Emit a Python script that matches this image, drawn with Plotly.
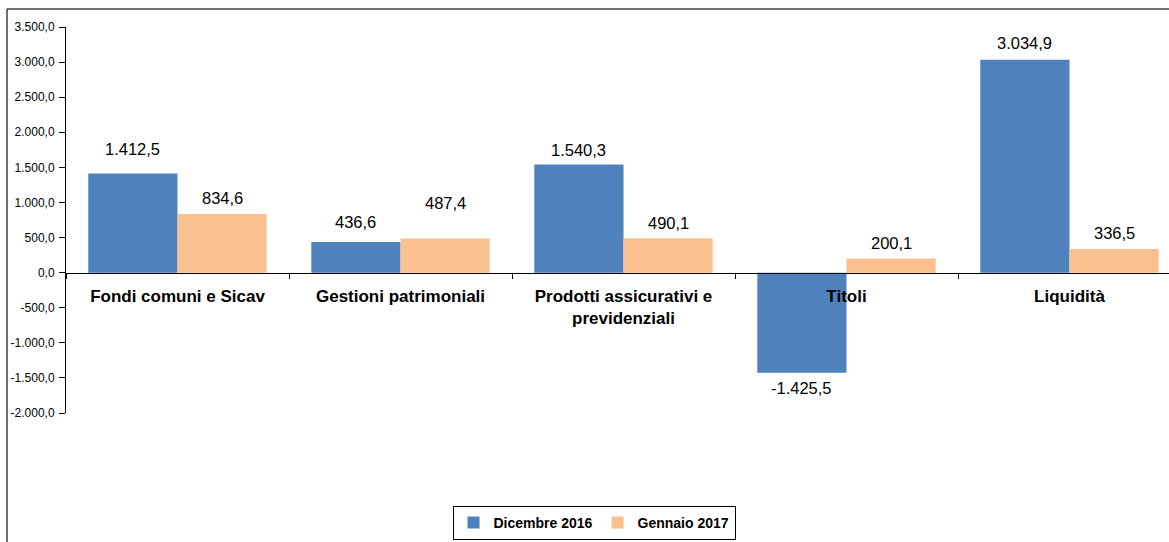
import plotly.graph_objects as go

# ---- data ----
categories = ["Fondi comuni e Sicav", "Gestioni patrimoniali",
              "Prodotti assicurativi e<br>previdenziali", "Titoli", "Liquidità"]
series_names = ["Dicembre 2016", "Gennaio 2017"]
dicembre_2016 = [1412.5, 436.6, 1540.3, -1425.5, 3034.9]
gennaio_2017 = [834.6, 487.4, 490.1, 200.1, 336.5]
y_tick_values = [-2000, -1500, -1000, -500, 0, 500, 1000, 1500, 2000, 2500, 3000, 3500]

# ---- style ----
W, H = 1169, 542
M_L, M_R, M_T, M_B = 66, 0, 27, 129
GROUP_PX = 223                      # width of one category slot in pixels
BARGAP = 0.2
COLORS = ["#4F81BD", "#FAC090"]
FONT = "Arial, Liberation Sans, sans-serif"
Y_MIN, Y_MAX = -2000, 3500
# distance (px) from bar end to the centre of its value label
LABEL_OFFSETS = [[25, 20, 15, 15, 17], [16, 35, 15, 16, 16]]


def it_fmt(v):
    s = f"{v:,.1f}"
    return s.replace(",", "#").replace(".", ",").replace("#", ".")


plot_w = W - M_L - M_R
x_range = [-0.5, -0.5 + plot_w / GROUP_PX]
zero_pos = (0 - Y_MIN) / (Y_MAX - Y_MIN)

fig = go.Figure()
for name, vals, col in zip(series_names, [dicembre_2016, gennaio_2017], COLORS):
    fig.add_trace(go.Bar(
        name=name, x=categories, y=vals,
        marker=dict(color=col, line=dict(width=0)),
        hoverinfo="skip",
    ))

# value labels
bar_w = (1 - BARGAP) / 2
annotations = []
for s, vals in enumerate([dicembre_2016, gennaio_2017]):
    for i, v in enumerate(vals):
        off = LABEL_OFFSETS[s][i]
        annotations.append(dict(
            x=i + (s - 0.5) * bar_w, y=v, xref="x", yref="y",
            text=it_fmt(v), showarrow=False, yanchor="middle", xanchor="center",
            yshift=off if v >= 0 else -off,
            font=dict(family=FONT, size=16.5, color="#000000"),
        ))

# outer chart frame (left and top edges)
fx0 = (7 - M_L) / plot_w
fy1 = 1 + (M_T - 9) / (H - M_T - M_B)
shapes = [
    dict(type="line", xref="paper", yref="paper", x0=fx0, x1=fx0, y0=-2, y1=fy1,
         line=dict(color="#404040", width=1.5)),
    dict(type="line", xref="paper", yref="paper", x0=fx0, x1=1.2, y0=fy1, y1=fy1,
         line=dict(color="#404040", width=1.5)),
]

fig.update_layout(
    width=W, height=H,
    margin=dict(l=M_L, r=M_R, t=M_T, b=M_B, pad=0),
    paper_bgcolor="white", plot_bgcolor="white",
    barmode="group", bargap=BARGAP, bargroupgap=0,
    font=dict(family=FONT, color="#000000"),
    annotations=annotations, shapes=shapes,
    showlegend=True,
    legend=dict(
        orientation="h", xref="container", yref="container",
        x=594 / W, xanchor="center", y=1 - 540 / H, yanchor="bottom",
        bordercolor="#000000", borderwidth=1, bgcolor="white",
        font=dict(family=FONT, size=14, weight="bold"),
        itemwidth=30, traceorder="normal",
    ),
    xaxis=dict(
        type="category", range=x_range, anchor="free", position=zero_pos,
        showline=True, linecolor="#000000", linewidth=1.3,
        ticks="outside", ticklen=5, tickcolor="#000000", tickson="boundaries",
        showgrid=False, zeroline=False,
        tickfont=dict(family=FONT, size=17, weight="bold", color="#000000"),
        ticklabelstandoff=8, fixedrange=True,
    ),
    yaxis=dict(
        range=[Y_MIN, Y_MAX], anchor="x",
        tickvals=y_tick_values, ticktext=[it_fmt(v) for v in y_tick_values],
        showline=True, linecolor="#000000", linewidth=1,
        ticks="outside", ticklen=6, tickcolor="#000000",
        showgrid=False, zeroline=False,
        tickfont=dict(family=FONT, size=12, color="#000000"),
        ticklabelstandoff=2, fixedrange=True,
    ),
)

fig.write_html("out.html", config={"displayModeBar": False})
